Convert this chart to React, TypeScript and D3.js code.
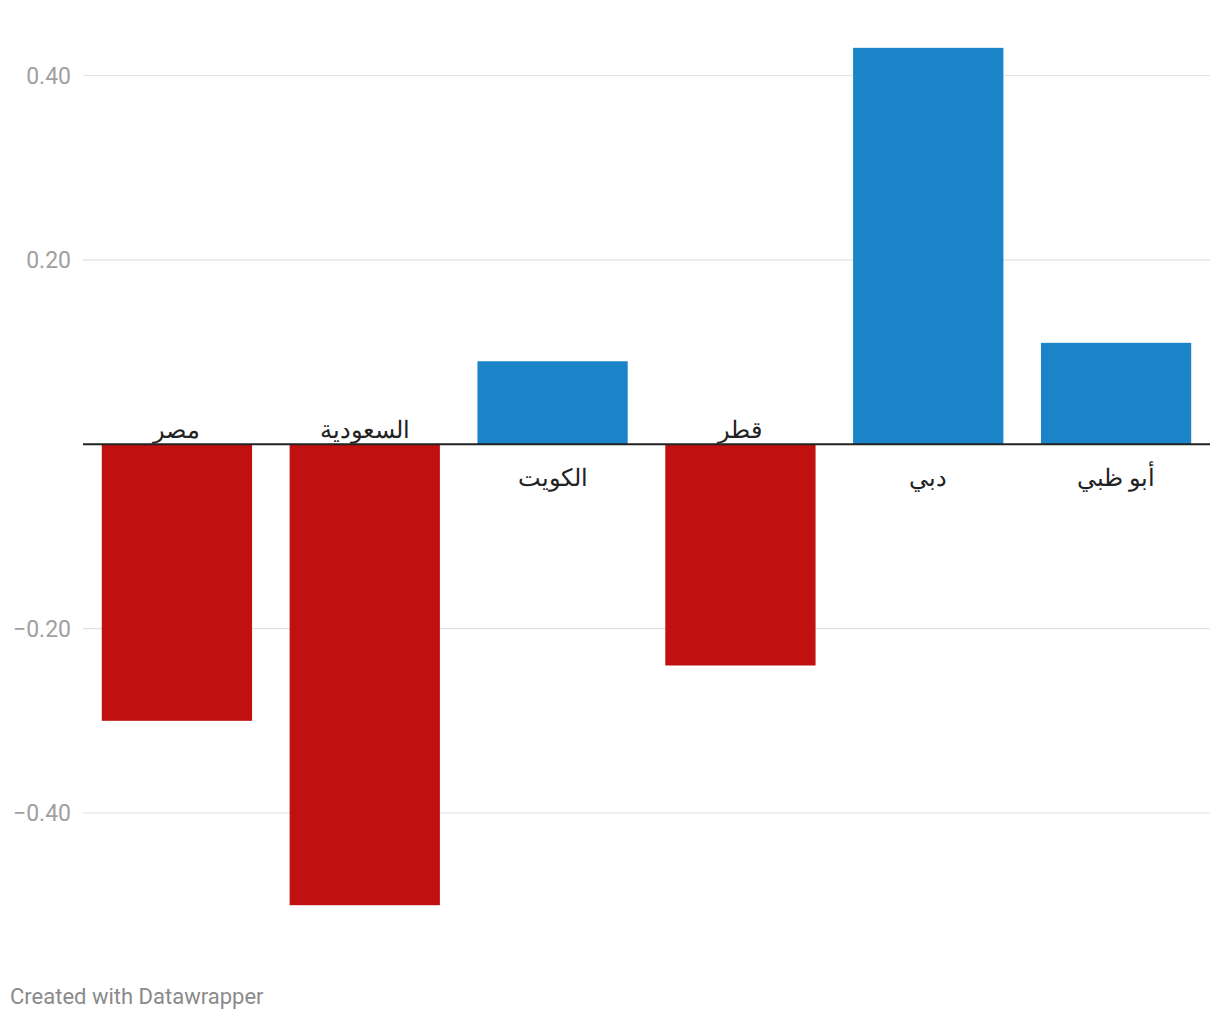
import React from "react";
import * as d3 from "d3";

const categories = ["مصر", "السعودية", "الكويت", "قطر", "دبي", "أبو ظبي"];
const values = [-0.3, -0.5, 0.09, -0.24, 0.43, 0.11];
const ticks = [0.4, 0.2, -0.2, -0.4];

const W = 1220;
const H = 1020;

export default function App() {
  const x = d3.scaleBand<string>().domain(categories).range([83, 1210]).paddingInner(0.2).paddingOuter(0.1);
  const y = d3.scaleLinear().domain([0.4, -0.4]).range([75.5, 813]);
  const fmt = (v: number) => (v < 0 ? "\u2212" : "") + Math.abs(v).toFixed(2);
  const y0 = y(0);
  return (
    <svg width={W} height={H} style={{ display: "block", position: "absolute", left: 0, top: 0 }} fontFamily="Roboto, 'Noto Sans', sans-serif">
      <rect width={W} height={H} fill="#fff" />
      {ticks.map((t) => (
        <g key={t}>
          <line x1={83} x2={1210} y1={y(t)} y2={y(t)} stroke="#e2e2e2" strokeWidth={1.2} />
          <text x={71} y={y(t)} dy="0.35em" textAnchor="end" fontSize={23} fill="#a0a0a0">
            {fmt(t)}
          </text>
        </g>
      ))}
      {categories.map((c, i) => {
        const v = values[i];
        const bx = x(c)!;
        const top = Math.min(y(v), y0);
        const h = Math.abs(y(v) - y0);
        return (
          <g key={c}>
            <rect x={bx} y={top} width={x.bandwidth()} height={h} fill={v < 0 ? "#c01010" : "#1b83c7"} />
            <text
              x={bx + x.bandwidth() / 2}
              y={v < 0 ? y0 - 6 : y0 + 42}
              textAnchor="middle"
              fontSize={24}
              fill="#222"
              direction="rtl"
            >
              {c}
            </text>
          </g>
        );
      })}
      <line x1={83} x2={1210} y1={y0} y2={y0} stroke="#222" strokeWidth={2} />
      <text x={10} y={1004} fontSize={22} fill="#8a8a8a">
        Created with Datawrapper
      </text>
    </svg>
  );
}
